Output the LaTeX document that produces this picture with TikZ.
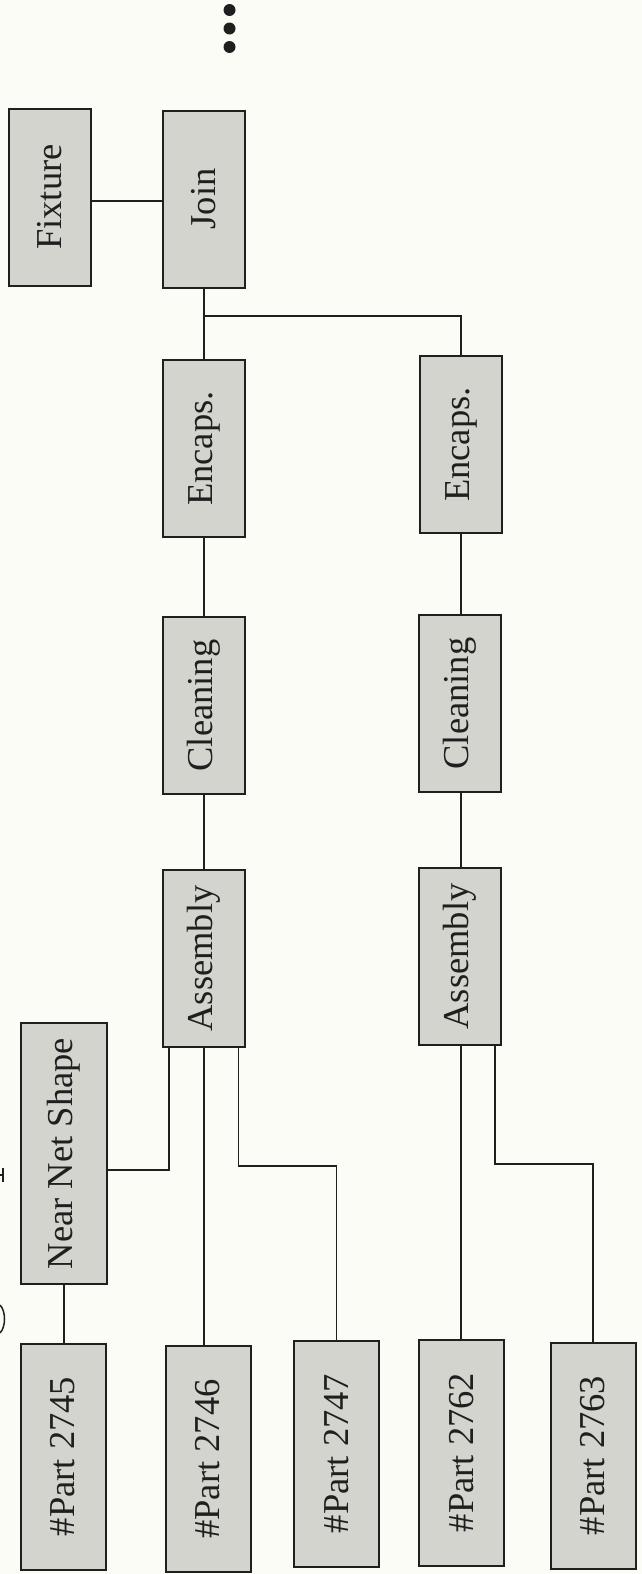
\documentclass[tikz,border=0pt]{standalone}
\usepackage{fontspec}
\setmainfont{Liberation Serif}
\definecolor{bg}{rgb}{0.99,0.99,0.97}
\definecolor{boxfill}{rgb}{0.83,0.83,0.81}
\definecolor{ink}{rgb}{0.12,0.12,0.12}
\newcommand\uptext[1]{\rotatebox{90}{#1}}
\begin{document}
\begin{tikzpicture}[x=1pt,y=-1pt,
  procbox/.style={draw=ink,line width=2pt,fill=boxfill,minimum width=82pt,minimum height=177pt,inner sep=0pt,text=ink,font=\fontsize{36.5}{40}\selectfont},
  partbox/.style={procbox,minimum width=85pt,minimum height=226pt},
  link/.style={draw=ink,line width=1.5pt}]
\fill[bg] (0,0) rectangle (642,1574);
\useasboundingbox (0,0) rectangle (642,1574);

% dots
\fill[ink] (229.5,10) circle[radius=6pt];
\fill[ink] (229.5,28.5) circle[radius=6pt];
\fill[ink] (229.5,47) circle[radius=6pt];

% boxes
\node[procbox] (fix) at (50,197) {\uptext{Fixture}};
\node[procbox] (join) at (204,199) {\uptext{Join}};
\node[procbox] (enc1) at (204,448.5) {\uptext{Encaps.}};
\node[procbox] (enc2) at (461,444.5) {\uptext{Encaps.}};
\node[procbox] (cln1) at (203.5,705.5) {\uptext{Cleaning}};
\node[procbox] (cln2) at (459.5,703.5) {\uptext{Cleaning}};
\node[procbox] (asm1) at (204,958.5) {\uptext{Assembly}};
\node[procbox] (asm2) at (460,956.5) {\uptext{Assembly}};
\node[procbox,minimum width=86pt,minimum height=261pt] (nns) at (64,1153.5) {\uptext{Near Net Shape}};
\node[partbox] (p45) at (63,1456.5) {\uptext{\#Part 2745}};
\node[partbox] (p46) at (208,1459) {\uptext{\#Part 2746}};
\node[partbox] (p47) at (336.5,1453.5) {\uptext{\#Part 2747}};
\node[partbox] (p62) at (461.5,1452.5) {\uptext{\#Part 2762}};
\node[partbox] (p63) at (593,1455.5) {\uptext{\#Part 2763}};

% connectors
\coordinate (fj) at (130,201);
\draw[link] (fix.east |- fj) -- (join.west |- fj);
\draw[link] (join.south) -- (join.south |- enc1.north);
\coordinate (br) at (204,316);
\draw[link] (br) -| (enc2.north);
\draw[link] (enc1.south) -- (enc1.south |- cln1.north);
\draw[link] (enc2.south) -- (enc2.south |- cln2.north);
\draw[link] (asm1.north) -- (asm1.north |- cln1.south);
\draw[link] (enc2.south |- asm2.north) -- (enc2.south |- cln2.south);

\coordinate (a1l) at (169,1170);
\draw[link] (asm1.south -| a1l) -- (a1l) -- (a1l -| nns.east);
\draw[link] (asm1.south) -- (asm1.south |- p46.north);
\coordinate (a1r) at (238.5,1166);
\draw[link] (asm1.south -| a1r) -- (a1r) -| (p47.north);
\draw[link] (nns.south) -- (nns.south |- p45.north);
\draw[link] (p62.north -| enc2.south) -- (asm2.south -| enc2.south);
\coordinate (a2r) at (495,1164);
\draw[link] (asm2.south -| a2r) -- (a2r) -| (p63.north);

% cropped glyph fragments at the left edge
\draw[ink,line width=1.5pt] (0,1175) -- (4,1175);
\draw[ink,line width=1.2pt] (3,1168) -- (3,1182);
\draw[ink,line width=1.5pt] (0,1305) .. controls (6,1311) and (6,1327) .. (0,1333);
\end{tikzpicture}
\end{document}
